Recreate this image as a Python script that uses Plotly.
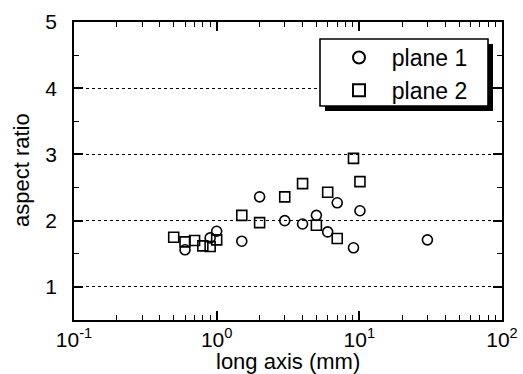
import plotly.graph_objects as go

# ---- data ----
plane1_x = [0.6, 0.9, 1.0, 1.5, 2.0, 3.0, 4.0, 5.0, 6.0, 7.0, 9.1, 10.1, 30.0]
plane1_y = [1.56, 1.74, 1.84, 1.69, 2.36, 2.00, 1.95, 2.08, 1.83, 2.27, 1.59, 2.15, 1.71]
plane2_x = [0.5, 0.6, 0.7, 0.8, 0.9, 1.0, 1.5, 2.0, 3.0, 4.0, 5.0, 6.0, 7.0, 9.1, 10.1]
plane2_y = [1.75, 1.68, 1.70, 1.62, 1.61, 1.71, 2.08, 1.97, 2.36, 2.56, 1.93, 2.43, 1.73, 2.94, 2.59]
series_names = ["plane 1", "plane 2"]
x_tickvals = [0.1, 1, 10, 100]
x_ticktext = ["10<sup>-1</sup>", "10<sup>0</sup>", "10<sup>1</sup>", "10<sup>2</sup>"]
x_title = "long axis (mm)"
y_title = "aspect ratio"

# minor tick positions on the log axis: 2..9 within each decade
x_minor = [m * d for d in (0.1, 1, 10) for m in range(2, 10)]

FONT = "Liberation Sans, Arial, Helvetica, sans-serif"
W, H = 523, 374
ML, MR, MT, MB = 74, 21, 22, 54
PW, PH = W - ML - MR, H - MT - MB


def px_x(p):
    return (p - ML) / PW


def px_y(p):
    return (H - MB - p) / PH


fig = go.Figure()
fig.add_trace(go.Scatter(
    x=plane1_x, y=plane1_y, mode="markers", name="\u00a0\u00a0" + series_names[0],
    marker=dict(symbol="circle-open", size=10, color="black", line=dict(width=1.6, color="black")),
))
fig.add_trace(go.Scatter(
    x=plane2_x, y=plane2_y, mode="markers", name="\u00a0\u00a0" + series_names[1],
    marker=dict(symbol="square-open", size=10, color="black", line=dict(width=1.6, color="black")),
))

axis_common = dict(
    showline=True, linecolor="black", linewidth=1.8, mirror="allticks",
    ticks="inside", ticklen=9, tickwidth=1.5, tickcolor="black",
    tickfont=dict(family=FONT, size=21, color="black"),
    zeroline=False, automargin=False,
)

fig.update_xaxes(
    type="log", range=[-1, 2],
    tickmode="array", tickvals=x_tickvals, ticktext=x_ticktext,
    showgrid=False,
    minor=dict(ticks="inside", ticklen=5, tickwidth=1.2, tickcolor="black",
               tickmode="array", tickvals=x_minor, showgrid=False),
    ticklabelstandoff=0,
    **axis_common,
)
fig.update_yaxes(
    range=[0.5, 5], tickmode="linear", tick0=0, dtick=1,
    showgrid=True, gridcolor="black", gridwidth=1, griddash="dot",
    minor=dict(ticks="inside", ticklen=5, tickwidth=1.2, tickcolor="black",
               tickmode="linear", tick0=0, dtick=0.5, showgrid=False),
    ticklabelstandoff=11,
    **axis_common,
)

# legend box with drop shadow
shapes = [
    dict(type="rect", xref="paper", yref="paper",
         x0=px_x(325), x1=px_x(493), y0=px_y(44), y1=px_y(111),
         fillcolor="black", line=dict(width=0), layer="above"),
    dict(type="rect", xref="paper", yref="paper",
         x0=px_x(320), x1=px_x(488), y0=px_y(39), y1=px_y(106),
         fillcolor="white", line=dict(width=1.6, color="black"), layer="above"),
]

annotations = [
    dict(text=x_title, xref="paper", yref="paper", x=0.5, y=px_y(347),
         xanchor="center", yanchor="top", showarrow=False,
         font=dict(family=FONT, size=22, color="black")),
    dict(text=y_title, xref="paper", yref="paper", x=px_x(22), y=px_y(170),
         xanchor="center", yanchor="middle", showarrow=False, textangle=-90,
         font=dict(family=FONT, size=22, color="black")),
]

fig.update_layout(
    width=W, height=H,
    margin=dict(l=ML, r=MR, t=MT, b=MB),
    paper_bgcolor="white", plot_bgcolor="white",
    showlegend=True,
    legend=dict(x=px_x(339), y=px_y(36), xanchor="left", yanchor="top",
                bgcolor="rgba(0,0,0,0)", borderwidth=0,
                font=dict(family=FONT, size=23, color="black"),
                itemsizing="constant", tracegroupgap=0),
    shapes=shapes, annotations=annotations,
)

fig.write_html(
    "out.html",
    config={"displayModeBar": False},
    post_script="document.body.style.margin='0';document.body.style.padding='0';"
                "document.documentElement.style.overflow='hidden';",
)
